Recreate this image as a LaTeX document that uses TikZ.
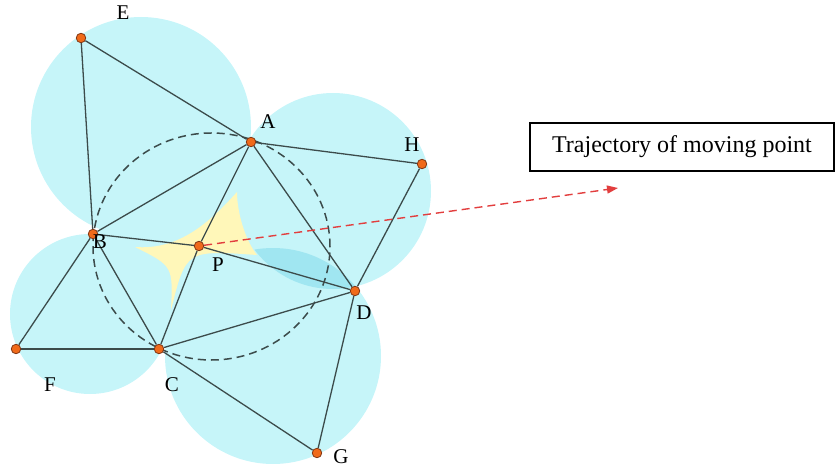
\documentclass[tikz,border=0pt]{standalone}
\usepackage{fontspec}
\setmainfont{Liberation Serif}
\usetikzlibrary{arrows.meta}
\pgfdeclarelayer{bg}
\pgfdeclarelayer{mid}
\pgfsetlayers{bg,mid,main}
\definecolor{cy}{RGB}{198,245,249}
\definecolor{cyd}{RGB}{160,230,241}
\definecolor{yel}{RGB}{255,247,185}
\definecolor{ln}{RGB}{60,75,75}
\definecolor{org}{RGB}{240,106,26}
\definecolor{orgd}{RGB}{130,55,20}
\definecolor{rd}{RGB}{226,62,62}
\tikzset{
  pt/.style={circle, fill=org, draw=orgd, line width=0.8pt, inner sep=0pt, minimum size=9.5pt},
  lab/.style={font=\fontsize{21}{25}\selectfont, inner sep=0pt},
  edge/.style={draw=ln, line width=1.3pt},
  dcirc/.style={draw=ln, line width=1.5pt, dash pattern=on 8pt off 5pt},
  arr/.style={draw=rd, line width=1.4pt, dash pattern=on 8pt off 5pt, -{Triangle[length=11pt,width=8pt]}},
  boxst/.style={draw=black, line width=1.3pt, minimum width=304pt, minimum height=48pt, inner sep=0pt, font=\fontsize{24}{28}\selectfont}
}
\begin{document}
\begin{tikzpicture}[x=1pt,y=-1pt]
\useasboundingbox (0,0) rectangle (836,468);
% points
\node[pt] (E) at (81,38) {};
\node[pt] (A) at (251,142) {};
\node[pt] (H) at (422,164) {};
\node[pt] (B) at (93,234) {};
\node[pt] (P) at (199,246) {};
\node[pt] (D) at (355,291) {};
\node[pt] (F) at (16,349) {};
\node[pt] (C) at (159,349) {};
\node[pt] (G) at (317,453) {};
% cyan regions
\begin{pgfonlayer}{bg}
\fill[cy] (A.center) -- (B.center) -- (C.center) -- (D.center) -- cycle;
\fill[cy] (141,127) circle[radius=110pt];
\fill[cy] (333,191) circle[radius=98pt];
\fill[cy] (90,314) circle[radius=80pt];
\fill[cy] (273,356) circle[radius=108pt];
\begin{scope}
  \clip (333,191) circle[radius=98pt];
  \fill[cyd] (273,356) circle[radius=108pt];
\end{scope}
% yellow star
\fill[yel] (237,192) .. controls (205,228) and (175,250) .. (135,247)
  .. controls (173,266) .. (171,310)
  .. controls (186,250) .. (257,255)
  .. controls (245,240) and (237,212) .. (237,192) -- cycle;
\end{pgfonlayer}
\begin{pgfonlayer}{mid}
% dashed circle
\coordinate (O) at (211.5,246.5);
\draw[dcirc] (O) ellipse [x radius=118.5pt, y radius=113.5pt];
% edges
\draw[edge] (E) -- (A);
\draw[edge] (E) -- (B);
\draw[edge] (A) -- (B);
\draw[edge] (A) -- (H);
\draw[edge] (H) -- (D);
\draw[edge] (A) -- (D);
\draw[edge] (A) -- (P);
\draw[edge] (B) -- (P);
\draw[edge] (P) -- (D);
\draw[edge] (B) -- (C);
\draw[edge] (B) -- (F);
\draw[edge] (F) -- (C);
\draw[edge] (C) -- (P);
\draw[edge] (C) -- (D);
\draw[edge] (C) -- (G);
\draw[edge] (G) -- (D);
% trajectory arrow
\coordinate (tip) at (618,188);
\draw[arr] (P) -- (tip);
\end{pgfonlayer}
% labels
\node[lab] (lE) at (123,13) {E};
\node[lab] (lA) at (268,122) {A};
\node[lab] (lH) at (412,145) {H};
\node[lab] (lB) at (100,242) {B};
\node[lab] (lP) at (218,265) {P};
\node[lab] (lD) at (364,313) {D};
\node[lab] (lF) at (50,385) {F};
\node[lab] (lC) at (172,385) {C};
\node[lab] (lG) at (341,457) {G};
% box
\node[boxst] (box) at (682,147) {Trajectory of moving point};
\end{tikzpicture}
\end{document}
